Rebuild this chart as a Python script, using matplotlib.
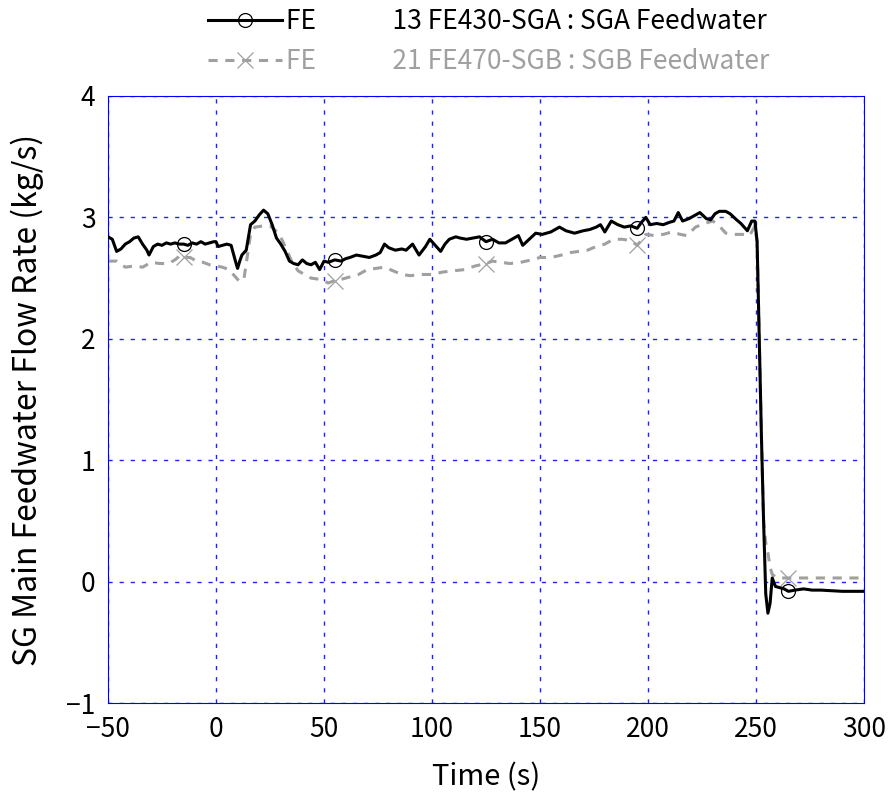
import numpy as np
import matplotlib
matplotlib.use("Agg")
import matplotlib.pyplot as plt

plt.rcParams['font.family'] = ['Noto Sans CJK JP', 'DejaVu Sans']

t_a = [-50, -48, -46, -44, -42, -40, -38, -36, -34, -32, -31, -29, -27, -25, -23, -21, -19, -17,
       -15, -13, -11, -9, -7, -5, -3, -1, 0, 1, 3, 5, 7, 9, 10, 11, 12, 14, 16, 18, 20, 22, 24,
       26, 28, 30, 32, 34, 36, 38, 40, 42, 44, 46, 48, 50, 52, 55, 58, 60, 62, 65, 68, 71, 74,
       76, 78, 80, 83, 86, 88, 91, 94, 97, 99, 102, 104, 106, 108, 111, 113, 116, 119, 122,
       125, 128, 131, 134, 137, 140, 142, 145, 148, 151, 155, 159, 162, 166, 170, 173, 176,
       178, 180, 183, 186, 189, 192, 195, 197, 199, 201, 204, 207, 210, 212, 214, 216, 219,
       222, 224, 227, 229, 231, 233, 236, 238, 241, 243, 246, 248, 249.5, 250.5, 251.5, 252.5,
       253.5, 254.5, 255.5, 256.5, 257.5, 259, 261, 263, 265, 268, 272, 276, 280, 290, 300]
v_a = [2.84, 2.82, 2.72, 2.74, 2.78, 2.80, 2.83, 2.84, 2.78, 2.73, 2.69, 2.76, 2.78, 2.77, 2.79,
       2.78, 2.79, 2.78, 2.78, 2.77, 2.79, 2.78, 2.80, 2.78, 2.79, 2.80, 2.80, 2.76, 2.77, 2.78,
       2.77, 2.64, 2.58, 2.64, 2.69, 2.73, 2.94, 2.97, 3.02, 3.06, 3.03, 2.94, 2.83, 2.78, 2.72,
       2.64, 2.62, 2.61, 2.65, 2.62, 2.61, 2.63, 2.57, 2.64, 2.63, 2.65, 2.64, 2.66, 2.67, 2.69,
       2.68, 2.67, 2.69, 2.71, 2.78, 2.75, 2.73, 2.74, 2.73, 2.78, 2.69, 2.76, 2.82, 2.76, 2.72,
       2.78, 2.82, 2.84, 2.83, 2.82, 2.83, 2.84, 2.80, 2.82, 2.79, 2.79, 2.82, 2.85, 2.77, 2.82,
       2.87, 2.86, 2.88, 2.92, 2.89, 2.87, 2.89, 2.90, 2.92, 2.94, 2.88, 2.97, 2.94, 2.92, 2.93,
       2.91, 2.96, 3.00, 2.94, 2.95, 2.94, 2.96, 2.97, 3.04, 2.97, 2.99, 3.02, 3.04, 2.99, 2.98,
       3.03, 3.05, 3.05, 3.03, 2.98, 2.95, 2.89, 2.97, 2.97, 2.80, 2.0, 1.2, 0.5, -0.1, -0.26,
       -0.18, 0.03, -0.04, -0.05, -0.06, -0.08, -0.07, -0.06, -0.07, -0.07, -0.08, -0.08]

t_b = [-50, -46, -42, -38, -34, -30, -26, -22, -19, -17, -15, -12, -9, -6, -3, 0, 3, 6, 9, 11,
       13, 14, 16, 18, 22, 25, 27, 29, 31, 33, 35, 38, 41, 44, 48, 52, 55, 58, 62, 66, 70, 74,
       78, 82, 86, 90, 95, 100, 105, 110, 115, 120, 125, 128, 132, 136, 141, 146, 150, 155,
       160, 164, 168, 172, 176, 180, 184, 188, 192, 195, 199, 203, 207, 211, 215, 218, 222,
       226, 230, 233, 236, 240, 244, 247, 249.5, 250.5, 251.5, 252.5, 253.5, 254.5, 255.5,
       256.5, 257.5, 259, 260, 265, 280, 300]
v_b = [2.64, 2.64, 2.59, 2.60, 2.59, 2.63, 2.62, 2.62, 2.65, 2.68, 2.67, 2.67, 2.64, 2.63, 2.61,
       2.60, 2.59, 2.57, 2.51, 2.47, 2.50, 2.62, 2.86, 2.92, 2.93, 2.93, 2.90, 2.87, 2.80, 2.72,
       2.64, 2.56, 2.53, 2.50, 2.49, 2.46, 2.48, 2.49, 2.51, 2.53, 2.57, 2.58, 2.59, 2.56, 2.53,
       2.52, 2.53, 2.53, 2.55, 2.56, 2.57, 2.60, 2.62, 2.64, 2.63, 2.62, 2.63, 2.65, 2.67, 2.67,
       2.69, 2.71, 2.72, 2.73, 2.76, 2.78, 2.82, 2.82, 2.81, 2.77, 2.86, 2.85, 2.86, 2.88, 2.86,
       2.85, 2.92, 2.95, 2.97, 2.93, 2.87, 2.86, 2.86, 2.85, 2.93, 2.80, 2.0, 1.2, 0.5, 0.32,
       0.24, 0.12, 0.06, 0.04, 0.03, 0.03, 0.03, 0.03]

marker_times = [-15, 55, 125, 195, 265]
label_a = "FE             13 FE430-SGA : SGA Feedwater"
label_b = "FE             21 FE470-SGB : SGB Feedwater"
x_ticks = [-50, 0, 50, 100, 150, 200, 250, 300]
y_ticks = [-1, 0, 1, 2, 3, 4]

fig = plt.figure(figsize=(8.88, 7.96), dpi=100)
ax = fig.add_axes([0.1216, 0.1168, 0.8514, 0.7626])

me_a = [t_a.index(m) for m in marker_times]
me_b = [t_b.index(m) for m in marker_times]

ax.plot(t_a, v_a, color='black', lw=2.2, marker='o', markevery=me_a, markersize=10,
        markerfacecolor='none', markeredgecolor='black', markeredgewidth=0.9, label=label_a, zorder=3)
ax.plot(t_b, v_b, color='#a0a0a0', lw=2.2, ls=(0, (3, 2.5)), marker='x', markevery=me_b,
        markersize=11, markeredgewidth=0.9, markeredgecolor='#a0a0a0', label=label_b, zorder=2)

ax.set_xlim(-50, 300)
ax.set_ylim(-1, 4)
ax.set_xticks(x_ticks)
ax.set_yticks(y_ticks)
ax.grid(True, color='#2020ff', ls=(0, (3, 5)), lw=1.0)
for s in ax.spines.values():
    s.set_color('#0000ff')
ax.tick_params(direction='in', colors='#0000ff', labelcolor='black', labelsize=19,
               length=0, pad=9)
ax.set_xlabel('Time (s)', fontsize=21, labelpad=14)
ax.set_ylabel('SG Main Feedwater Flow Rate (kg/s)', fontsize=23, labelpad=16)

leg = fig.legend(handles=ax.get_lines(), loc='upper left', bbox_to_anchor=(0.234, 0.99),
                 frameon=False, fontsize=19, handlelength=2.8, labelspacing=0.5,
                 borderaxespad=0, borderpad=0, handletextpad=0.15, labelcolor='linecolor')

fig.savefig('out.png', dpi=100)
